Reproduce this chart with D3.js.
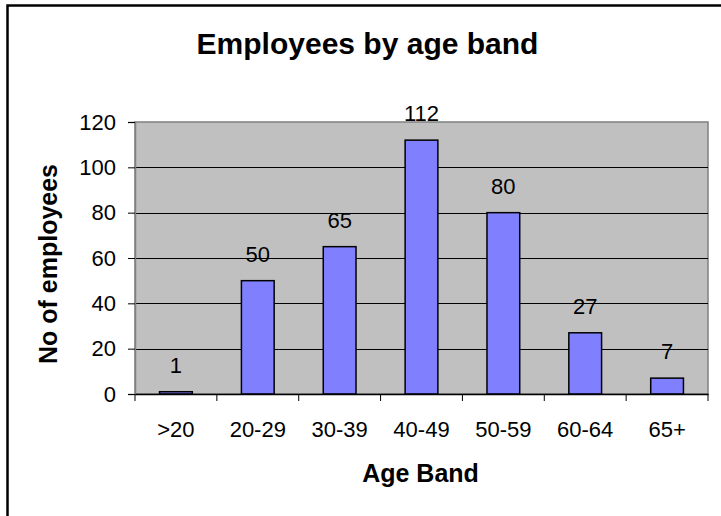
<!DOCTYPE html>
<html>
<head>
<meta charset="utf-8">
<script src="https://cdn.jsdelivr.net/npm/d3@7"></script>
<style>
  html, body { margin: 0; padding: 0; background: #fff; }
  svg { display: block; font-family: "Liberation Sans", Arial, sans-serif; }
</style>
</head>
<body>
<svg id="chart" width="721" height="516"></svg>
<script>
const categories = [">20", "20-29", "30-39", "40-49", "50-59", "60-64", "65+"];
const employees = [1, 50, 65, 112, 80, 27, 7];
const yTicks = [0, 20, 40, 60, 80, 100, 120];
const titleText = "Employees by age band";
const xTitle = "Age Band";
const yTitle = "No of employees";

const svg = d3.select("#chart");
const plot = { left: 135, right: 708, top: 122, bottom: 394 };

// outer chart border (only top and left visible in crop)
svg.append("path")
  .attr("d", "M7.5,516 L7.5,5.5 L721,5.5")
  .attr("fill", "none").attr("stroke", "#000").attr("stroke-width", 2.5);

const x = d3.scaleBand().domain(categories)
  .range([plot.left, plot.right]).paddingInner(0.6).paddingOuter(0.3);
const y = d3.scaleLinear().domain([0, 120]).range([plot.bottom, plot.top]);

// plot background
svg.append("rect")
  .attr("x", plot.left).attr("y", plot.top)
  .attr("width", plot.right - plot.left).attr("height", plot.bottom - plot.top)
  .attr("fill", "#C0C0C0").attr("stroke", "#808080").attr("stroke-width", 1.5);

// gridlines
svg.append("g").selectAll("line").data(yTicks.filter(d => d > 0 && d < 120)).join("line")
  .attr("x1", plot.left).attr("x2", plot.right)
  .attr("y1", d => Math.round(y(d)) + 0.5).attr("y2", d => Math.round(y(d)) + 0.5)
  .attr("stroke", "#000").attr("stroke-width", 1);

// bars
svg.append("g").selectAll("rect").data(employees).join("rect")
  .attr("x", (d, i) => x(categories[i]))
  .attr("y", d => y(d))
  .attr("width", x.bandwidth())
  .attr("height", d => y(0) - y(d))
  .attr("fill", "#8080FF").attr("stroke", "#000").attr("stroke-width", 1.5);

// data labels
svg.append("g").selectAll("text").data(employees).join("text")
  .attr("x", (d, i) => x(categories[i]) + x.bandwidth() / 2)
  .attr("y", d => y(d) - 19)
  .attr("text-anchor", "middle")
  .attr("font-size", 22).attr("fill", "#000")
  .text(d => d);

// y axis
const yAxis = d3.axisLeft(y).tickValues(yTicks).tickSize(7).tickPadding(12).tickFormat(d3.format("d"));
const gy = svg.append("g").attr("transform", `translate(${plot.left},0)`).call(yAxis);
gy.select(".domain").attr("stroke", "#808080").attr("stroke-width", 1.5);
gy.selectAll(".tick line").attr("stroke", "#000");
gy.selectAll(".tick text").attr("font-size", 22).attr("fill", "#000")
  .attr("font-family", "Liberation Sans, Arial, sans-serif");

// x axis with ticks at category boundaries
const xAxis = d3.axisBottom(x).tickSize(0).tickPadding(43);
const gx = svg.append("g").attr("transform", `translate(0,${plot.bottom})`).call(xAxis);
gx.select(".domain").attr("stroke", "#000").attr("stroke-width", 1.5);
gx.selectAll(".tick text").attr("font-size", 22).attr("fill", "#000")
  .attr("font-family", "Liberation Sans, Arial, sans-serif").attr("dy", "0");
const boundaries = d3.range(categories.length + 1).map(i => plot.left + i * x.step());
gx.append("g").selectAll("line").data(boundaries).join("line")
  .attr("x1", d => d).attr("x2", d => d).attr("y1", 0).attr("y2", 7)
  .attr("stroke", "#000").attr("stroke-width", 1);

// title
svg.append("text").attr("x", 367.5).attr("y", 54).attr("text-anchor", "middle")
  .attr("font-size", 30).attr("font-weight", "bold").text(titleText);

// x title
svg.append("text").attr("x", 420.5).attr("y", 482).attr("text-anchor", "middle")
  .attr("font-size", 25).attr("font-weight", "bold").text(xTitle);

// y title
svg.append("text").attr("transform", "translate(57,264) rotate(-90)")
  .attr("text-anchor", "middle")
  .attr("font-size", 25).attr("font-weight", "bold").text(yTitle);
</script>
</body>
</html>
